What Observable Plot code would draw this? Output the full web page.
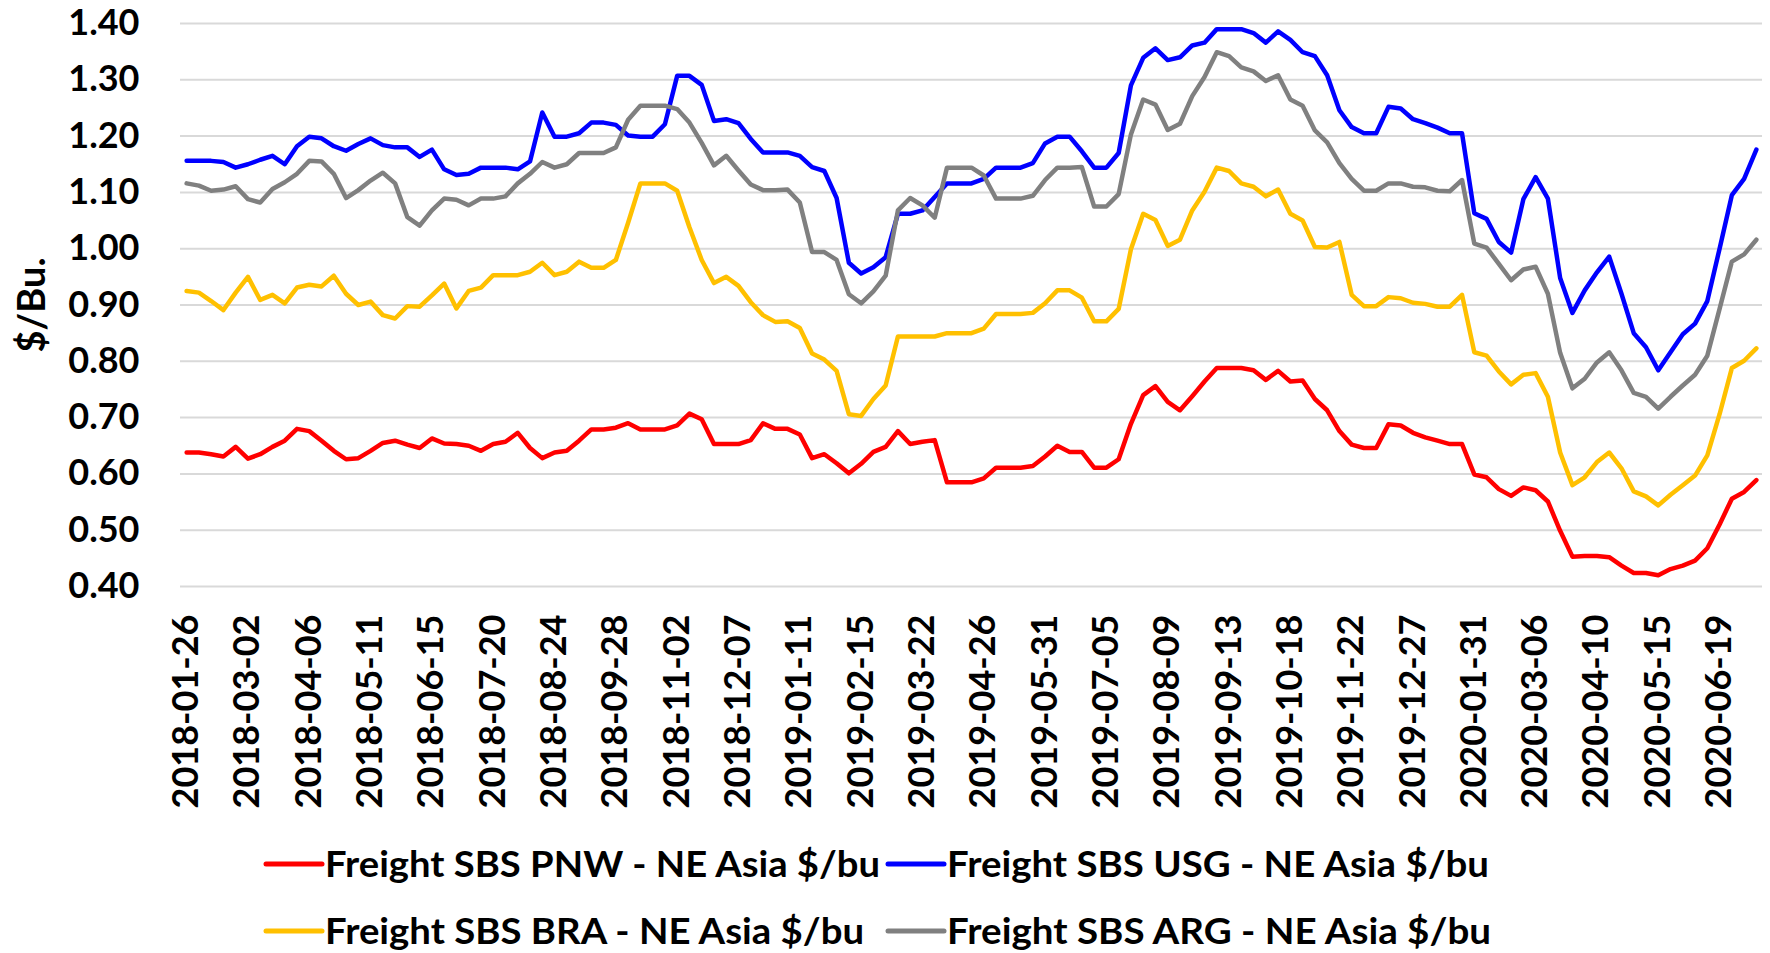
<!DOCTYPE html>
<html><head><meta charset="utf-8">
<script src="https://cdn.jsdelivr.net/npm/d3@7"></script>
<script src="https://cdn.jsdelivr.net/npm/@observablehq/plot@0.6"></script>
<style>
html,body{margin:0;padding:0;background:#fff;width:1770px;height:953px;overflow:hidden;}
#chart svg,#legend svg{display:block;}
</style></head><body><div id="chart"></div><div id="legend"></div>
<script>
const dates = [
"2018-01-26","2018-02-02","2018-02-09","2018-02-16","2018-02-23","2018-03-02","2018-03-09","2018-03-16","2018-03-23","2018-03-30",
"2018-04-06","2018-04-13","2018-04-20","2018-04-27","2018-05-04","2018-05-11","2018-05-18","2018-05-25","2018-06-01","2018-06-08",
"2018-06-15","2018-06-22","2018-06-29","2018-07-06","2018-07-13","2018-07-20","2018-07-27","2018-08-03","2018-08-10","2018-08-17",
"2018-08-24","2018-08-31","2018-09-07","2018-09-14","2018-09-21","2018-09-28","2018-10-05","2018-10-12","2018-10-19","2018-10-26",
"2018-11-02","2018-11-09","2018-11-16","2018-11-23","2018-11-30","2018-12-07","2018-12-14","2018-12-21","2018-12-28","2019-01-04",
"2019-01-11","2019-01-18","2019-01-25","2019-02-01","2019-02-08","2019-02-15","2019-02-22","2019-03-01","2019-03-08","2019-03-15",
"2019-03-22","2019-03-29","2019-04-05","2019-04-12","2019-04-19","2019-04-26","2019-05-03","2019-05-10","2019-05-17","2019-05-24",
"2019-05-31","2019-06-07","2019-06-14","2019-06-21","2019-06-28","2019-07-05","2019-07-12","2019-07-19","2019-07-26","2019-08-02",
"2019-08-09","2019-08-16","2019-08-23","2019-08-30","2019-09-06","2019-09-13","2019-09-20","2019-09-27","2019-10-04","2019-10-11",
"2019-10-18","2019-10-25","2019-11-01","2019-11-08","2019-11-15","2019-11-22","2019-11-29","2019-12-06","2019-12-13","2019-12-20",
"2019-12-27","2020-01-03","2020-01-10","2020-01-17","2020-01-24","2020-01-31","2020-02-07","2020-02-14","2020-02-21","2020-02-28",
"2020-03-06","2020-03-13","2020-03-20","2020-03-27","2020-04-03","2020-04-10","2020-04-17","2020-04-24","2020-05-01","2020-05-08",
"2020-05-15","2020-05-22","2020-05-29","2020-06-05","2020-06-12","2020-06-19","2020-06-26","2020-07-03","2020-07-10"];

const xTickLabels = ["2018-01-26","2018-03-02","2018-04-06","2018-05-11","2018-06-15","2018-07-20","2018-08-24","2018-09-28","2018-11-02",
"2018-12-07","2019-01-11","2019-02-15","2019-03-22","2019-04-26","2019-05-31","2019-07-05","2019-08-09","2019-09-13","2019-10-18",
"2019-11-22","2019-12-27","2020-01-31","2020-03-06","2020-04-10","2020-05-15","2020-06-19"];

const yTicks = [0.4,0.5,0.6,0.7,0.8,0.9,1.0,1.1,1.2,1.3,1.4];

const pnw = [
0.638,0.638,0.635,0.631,0.648,0.627,0.635,0.648,0.659,0.680,
0.676,0.659,0.641,0.626,0.628,0.641,0.655,0.659,0.652,0.646,
0.663,0.654,0.653,0.650,0.641,0.653,0.657,0.673,0.646,0.628,
0.638,0.641,0.659,0.679,0.679,0.682,0.690,0.679,0.679,0.679,
0.686,0.707,0.697,0.653,0.653,0.653,0.660,0.690,0.680,0.680,
0.670,0.628,0.635,0.619,0.601,0.618,0.639,0.648,0.676,0.653,
0.657,0.660,0.585,0.585,0.585,0.592,0.611,0.611,0.611,0.614,
0.631,0.650,0.639,0.639,0.611,0.611,0.626,0.689,0.740,0.756,
0.728,0.713,0.738,0.764,0.788,0.788,0.788,0.784,0.767,0.783,
0.764,0.766,0.733,0.713,0.676,0.652,0.646,0.646,0.688,0.686,
0.673,0.665,0.659,0.653,0.653,0.599,0.594,0.573,0.561,0.576,
0.571,0.551,0.499,0.453,0.454,0.454,0.452,0.437,0.424,0.424,
0.420,0.431,0.437,0.446,0.468,0.510,0.556,0.568,0.589];

const usg = [
1.156,1.156,1.156,1.154,1.144,1.150,1.158,1.165,1.150,1.182,
1.199,1.196,1.182,1.174,1.186,1.196,1.184,1.180,1.180,1.163,
1.176,1.141,1.131,1.133,1.144,1.144,1.144,1.141,1.155,1.242,
1.199,1.199,1.205,1.224,1.224,1.220,1.201,1.199,1.199,1.221,
1.307,1.307,1.291,1.227,1.230,1.223,1.195,1.171,1.171,1.171,
1.165,1.145,1.138,1.090,0.975,0.956,0.967,0.985,1.062,1.062,
1.068,1.092,1.116,1.116,1.116,1.124,1.144,1.144,1.144,1.152,
1.187,1.199,1.199,1.173,1.144,1.144,1.170,1.290,1.339,1.356,
1.335,1.340,1.361,1.366,1.390,1.390,1.390,1.383,1.366,1.386,
1.371,1.349,1.342,1.308,1.246,1.216,1.205,1.205,1.252,1.249,
1.230,1.223,1.215,1.205,1.205,1.063,1.053,1.012,0.993,1.088,
1.127,1.089,0.948,0.886,0.926,0.958,0.986,0.920,0.850,0.825,
0.784,0.816,0.848,0.867,0.907,1.000,1.095,1.124,1.176];

const bra = [
0.925,0.922,0.907,0.891,0.922,0.950,0.909,0.918,0.903,0.931,
0.936,0.933,0.952,0.920,0.900,0.906,0.882,0.876,0.898,0.897,
0.917,0.938,0.894,0.925,0.931,0.953,0.953,0.953,0.959,0.975,
0.953,0.959,0.977,0.966,0.966,0.980,1.046,1.116,1.116,1.116,
1.103,1.038,0.980,0.939,0.950,0.934,0.905,0.882,0.870,0.871,
0.859,0.814,0.803,0.783,0.706,0.703,0.733,0.757,0.844,0.844,
0.844,0.844,0.850,0.850,0.850,0.858,0.884,0.884,0.884,0.886,
0.903,0.926,0.926,0.913,0.871,0.871,0.893,0.999,1.062,1.051,
1.005,1.016,1.068,1.101,1.144,1.138,1.116,1.110,1.093,1.105,
1.062,1.050,1.003,1.002,1.012,0.918,0.898,0.898,0.914,0.912,
0.904,0.902,0.897,0.897,0.918,0.816,0.810,0.782,0.759,0.776,
0.779,0.737,0.638,0.580,0.594,0.621,0.638,0.610,0.569,0.560,
0.544,0.563,0.580,0.597,0.633,0.706,0.788,0.801,0.823];

const arg = [
1.116,1.112,1.103,1.105,1.111,1.088,1.082,1.106,1.118,1.133,
1.156,1.155,1.133,1.090,1.104,1.121,1.135,1.116,1.056,1.041,
1.068,1.089,1.087,1.077,1.089,1.089,1.093,1.116,1.133,1.154,
1.144,1.150,1.170,1.170,1.170,1.180,1.229,1.254,1.254,1.254,
1.248,1.224,1.188,1.148,1.165,1.139,1.114,1.104,1.104,1.105,
1.082,0.994,0.994,0.980,0.919,0.903,0.924,0.952,1.068,1.090,
1.077,1.055,1.144,1.144,1.144,1.130,1.089,1.089,1.089,1.094,
1.122,1.144,1.144,1.145,1.075,1.075,1.097,1.203,1.265,1.256,
1.211,1.222,1.271,1.305,1.349,1.342,1.322,1.315,1.298,1.308,
1.265,1.254,1.210,1.189,1.152,1.124,1.103,1.103,1.116,1.116,
1.110,1.109,1.103,1.102,1.122,1.009,1.002,0.973,0.944,0.963,
0.968,0.920,0.815,0.752,0.769,0.798,0.816,0.784,0.744,0.737,
0.716,0.737,0.757,0.776,0.810,0.893,0.977,0.990,1.016];

const seriesNames = ["Freight SBS PNW - NE Asia $/bu","Freight SBS USG - NE Asia $/bu","Freight SBS BRA - NE Asia $/bu","Freight SBS ARG - NE Asia $/bu"];
const seriesColors = ["#FF0000","#0000FF","#FFC000","#808080"];
const seriesValues = [pnw, usg, bra, arg];

const rows = [];
seriesValues.forEach((vals, s) => vals.forEach((v, i) => rows.push({date: dates[i], value: v, series: seriesNames[s]})));

const chart = Plot.plot({
  width: 1770,
  height: 820,
  marginLeft: 180,
  marginRight: 8,
  marginTop: 23,
  marginBottom: 234,
  style: {fontFamily: "Lato, 'DejaVu Sans', sans-serif", fontWeight: "bold", fontSize: "36px", color: "#000", background: "#fff"},
  x: {type: "point", domain: dates, padding: 0.5},
  y: {domain: [0.4, 1.4]},
  color: {domain: seriesNames, range: seriesColors},
  marks: [
    Plot.gridY(yTicks, {stroke: "#d9d9d9", strokeOpacity: 1, strokeWidth: 2}),
    Plot.axisY({ticks: yTicks, tickFormat: d => d.toFixed(2), tickSize: 0, tickPadding: 41, label: null}),
    Plot.axisX({ticks: xTickLabels, tickRotate: -90, tickSize: 0, tickPadding: 28, label: null}),
    ...seriesNames.map(name => Plot.lineY(rows.filter(r => r.series === name), {
      x: "date", y: "value", stroke: "series", strokeWidth: 4.5, strokeLinejoin: "round", strokeLinecap: "round"
    })),
    Plot.text(["$/Bu."], {text: d => d, frameAnchor: "left", textAnchor: "middle", dx: -148, rotate: -90, fontSize: 38, fontWeight: "bold"})
  ]
});
document.getElementById("chart").appendChild(chart);

// legend (two rows x two columns, as in the reference)
const legendLayout = [
  {col: 0, row: 0, w: 555},
  {col: 1, row: 0, w: 542},
  {col: 0, row: 1, w: 539},
  {col: 1, row: 1, w: 544}
];
const colX = [266, 888];
const rowY = [44, 111];
const lsvg = d3.select("#legend").append("svg").attr("width", 1770).attr("height", 133);
seriesNames.forEach((name, i) => {
  const L = legendLayout[i];
  const x0 = colX[L.col], y = rowY[L.row];
  lsvg.append("line").attr("x1", x0).attr("x2", x0 + 56).attr("y1", y).attr("y2", y)
    .attr("stroke", seriesColors[i]).attr("stroke-width", 5).attr("stroke-linecap", "round");
  lsvg.append("text").attr("x", x0 + 59).attr("y", y + 12.5)
    .attr("font-family", "Lato, 'DejaVu Sans', sans-serif")
    .attr("font-weight", "bold").attr("font-size", 36)
    .attr("textLength", L.w).attr("lengthAdjust", "spacingAndGlyphs")
    .text(name);
});
</script></body></html>
